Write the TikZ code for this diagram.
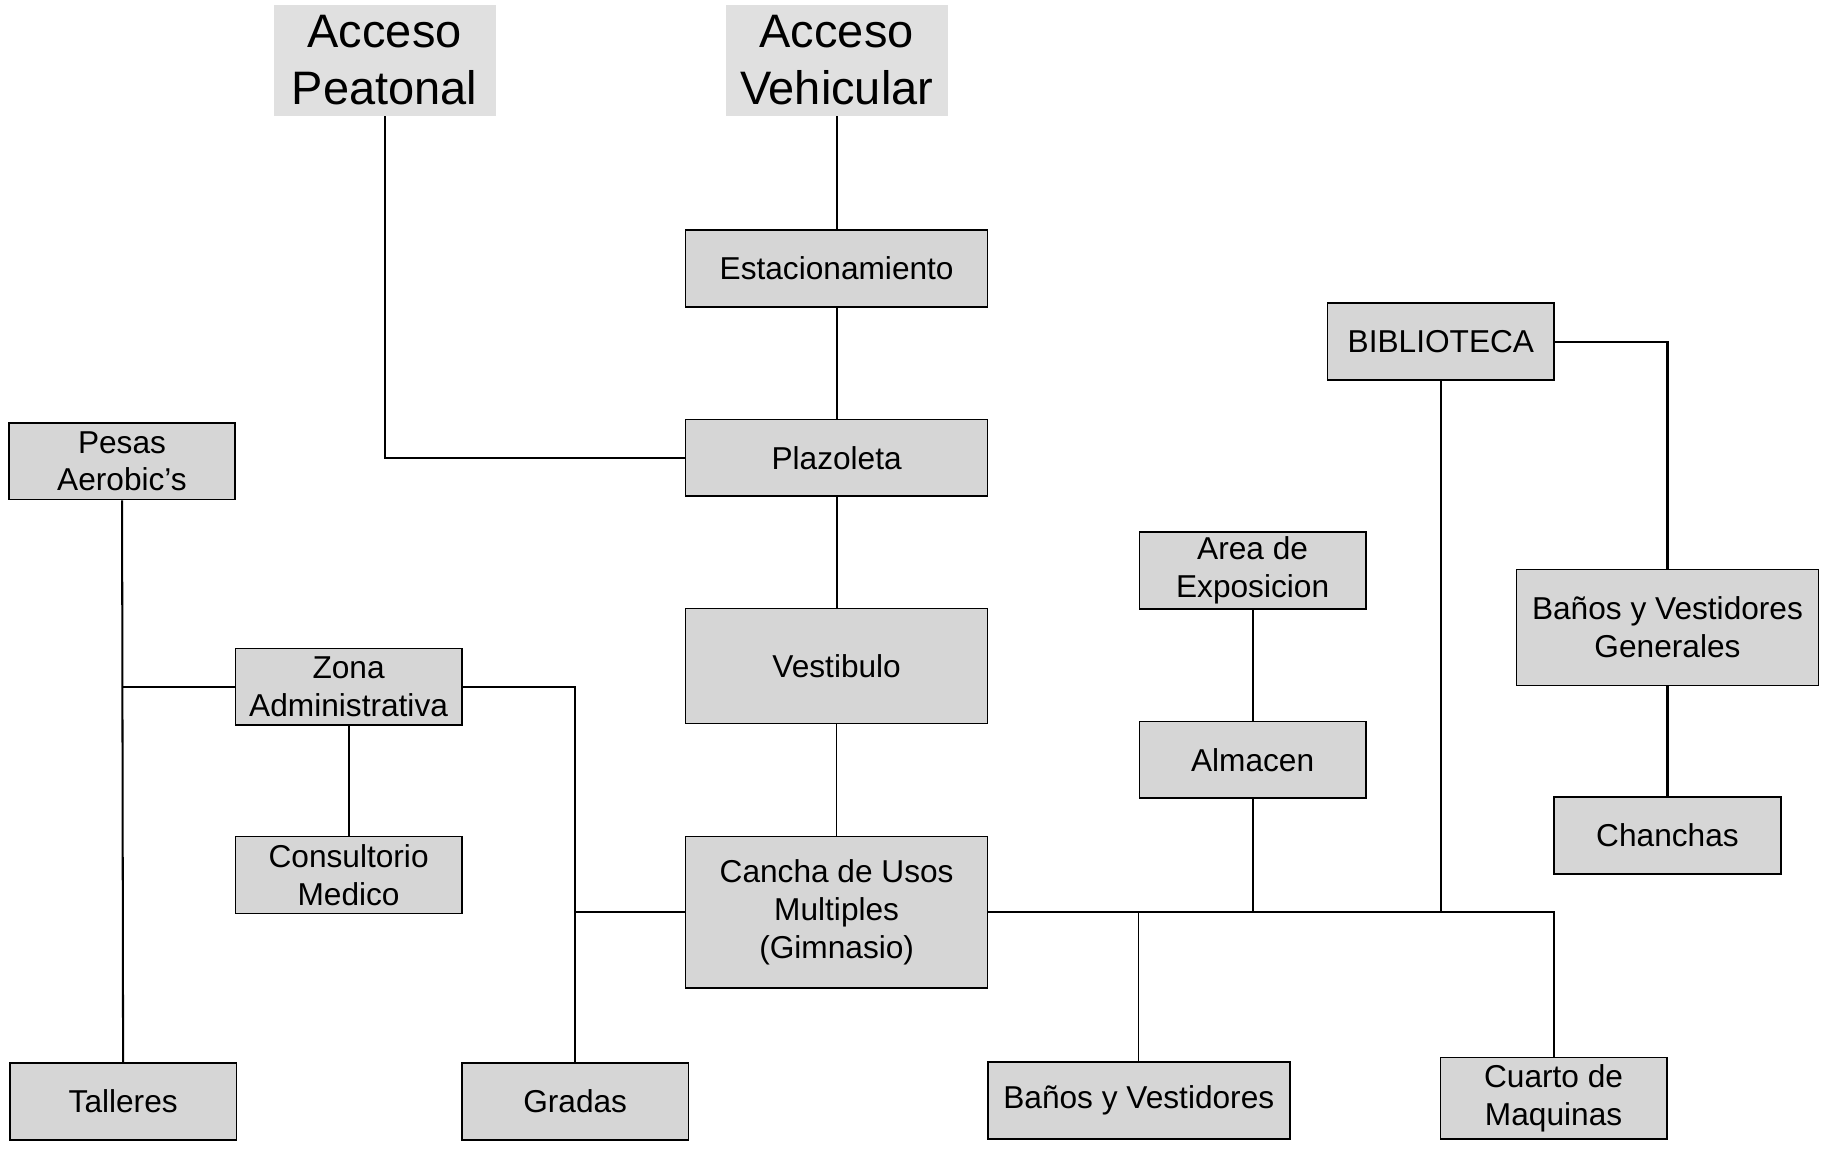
\documentclass[tikz,border=0pt]{standalone}
\usepackage{fontspec}
\setmainfont{Liberation Sans}

\tikzset{
  caja/.style={draw, line width=0.8pt, fill=gray!32, align=center,
    inner sep=0pt, minimum width=3.9cm, minimum height=1.32cm,
    font=\fontsize{15.5}{18.5}\selectfont},
  cajaancha/.style={caja, minimum width=5.2cm},
  acceso/.style={fill=gray!24, align=center, inner sep=0pt,
    minimum width=3.82cm, minimum height=1.9cm,
    font=\fontsize{23}{28}\selectfont},
  linea/.style={line width=1pt},
  lineafina/.style={line width=0.6pt}
}

\begin{document}
\begin{tikzpicture}[x=0.02cm, y=-0.02cm]

    % Marco
    \useasboundingbox (0, 0) rectangle (1568, 991);

    % Accesos
    \node[acceso] (peatonal) at (331, 52) {Acceso\\Peatonal};
    \node[acceso] (vehicular) at (720, 52) {Acceso\\Vehicular};

    % Eje central
    \node[cajaancha] (estacionamiento) at (720, 231) {Estacionamiento};
    \node[cajaancha] (plazoleta) at (720, 394) {Plazoleta};
    \node[cajaancha, minimum height=1.98cm] (vestibulo) at (720, 573) {Vestibulo};
    \node[cajaancha, minimum height=2.6cm] (cancha) at (720, 785) {Cancha de Usos\\Multiples\\(Gimnasio)};

    % Lado izquierdo
    \node[caja] (pesas) at (105, 397) {Pesas\\Aerobic's};
    \node[caja] (zona) at (300, 591) {Zona\\Administrativa};
    \node[caja] (consultorio) at (300, 753) {Consultorio\\Medico};
    \node[caja] (talleres) at (106, 948) {Talleres};
    \node[caja] (gradas) at (495, 948) {Gradas};

    % Lado derecho
    \node[cajaancha] (banos) at (980, 947) {Baños y Vestidores};
    \node[caja, minimum height=1.4cm] (cuarto) at (1337, 945) {Cuarto de\\Maquinas};
    \node[caja] (exposicion) at (1078, 491) {Area de\\Exposicion};
    \node[caja] (almacen) at (1078, 654) {Almacen};
    \node[caja] (biblioteca) at (1240, 294) {BIBLIOTECA};
    \node[cajaancha, minimum height=2cm] (generales) at (1435, 540) {Baños y Vestidores\\Generales};
    \node[caja] (chanchas) at (1435, 719) {Chanchas};

    % Uniones
    \coordinate (nudoPesas) at (pesas.south |- zona.west);
    \coordinate (nudoGradas) at (gradas.north |- cancha.west);
    \coordinate (nudoAlmacen) at (almacen.south |- cancha.east);
    \coordinate (nudoBiblioteca) at (biblioteca.south |- cancha.east);
    \coordinate (nudoBanos) at (banos.north |- cancha.east);

    % Conexiones del eje central
    \draw[linea] (vehicular) -- (estacionamiento);
    \draw[linea] (estacionamiento) -- (plazoleta);
    \draw[linea] (plazoleta) -- (vestibulo);
    \draw[lineafina] (vestibulo) -- (cancha);
    \draw[linea] (peatonal.south) |- (plazoleta.west);

    % Conexiones izquierda
    \draw[linea] (pesas) -- (talleres);
    \draw[linea] (nudoPesas) -- (zona.west);
    \draw[linea] (zona.east) -| (gradas.north);
    \draw[linea] (zona) -- (consultorio);
    \draw[linea] (nudoGradas) -- (cancha.west);

    % Conexiones derecha
    \draw[linea] (cancha.east) -| (cuarto.north);
    \draw[linea] (almacen) -- (nudoAlmacen);
    \draw[linea] (biblioteca) -- (nudoBiblioteca);
    \draw[lineafina] (banos) -- (nudoBanos);
    \draw[linea] (exposicion) -- (almacen);
    \draw[linea] (biblioteca.east) -| (generales.north);
    \draw[linea] (generales) -- (chanchas);

  \end{tikzpicture}
\end{document}
